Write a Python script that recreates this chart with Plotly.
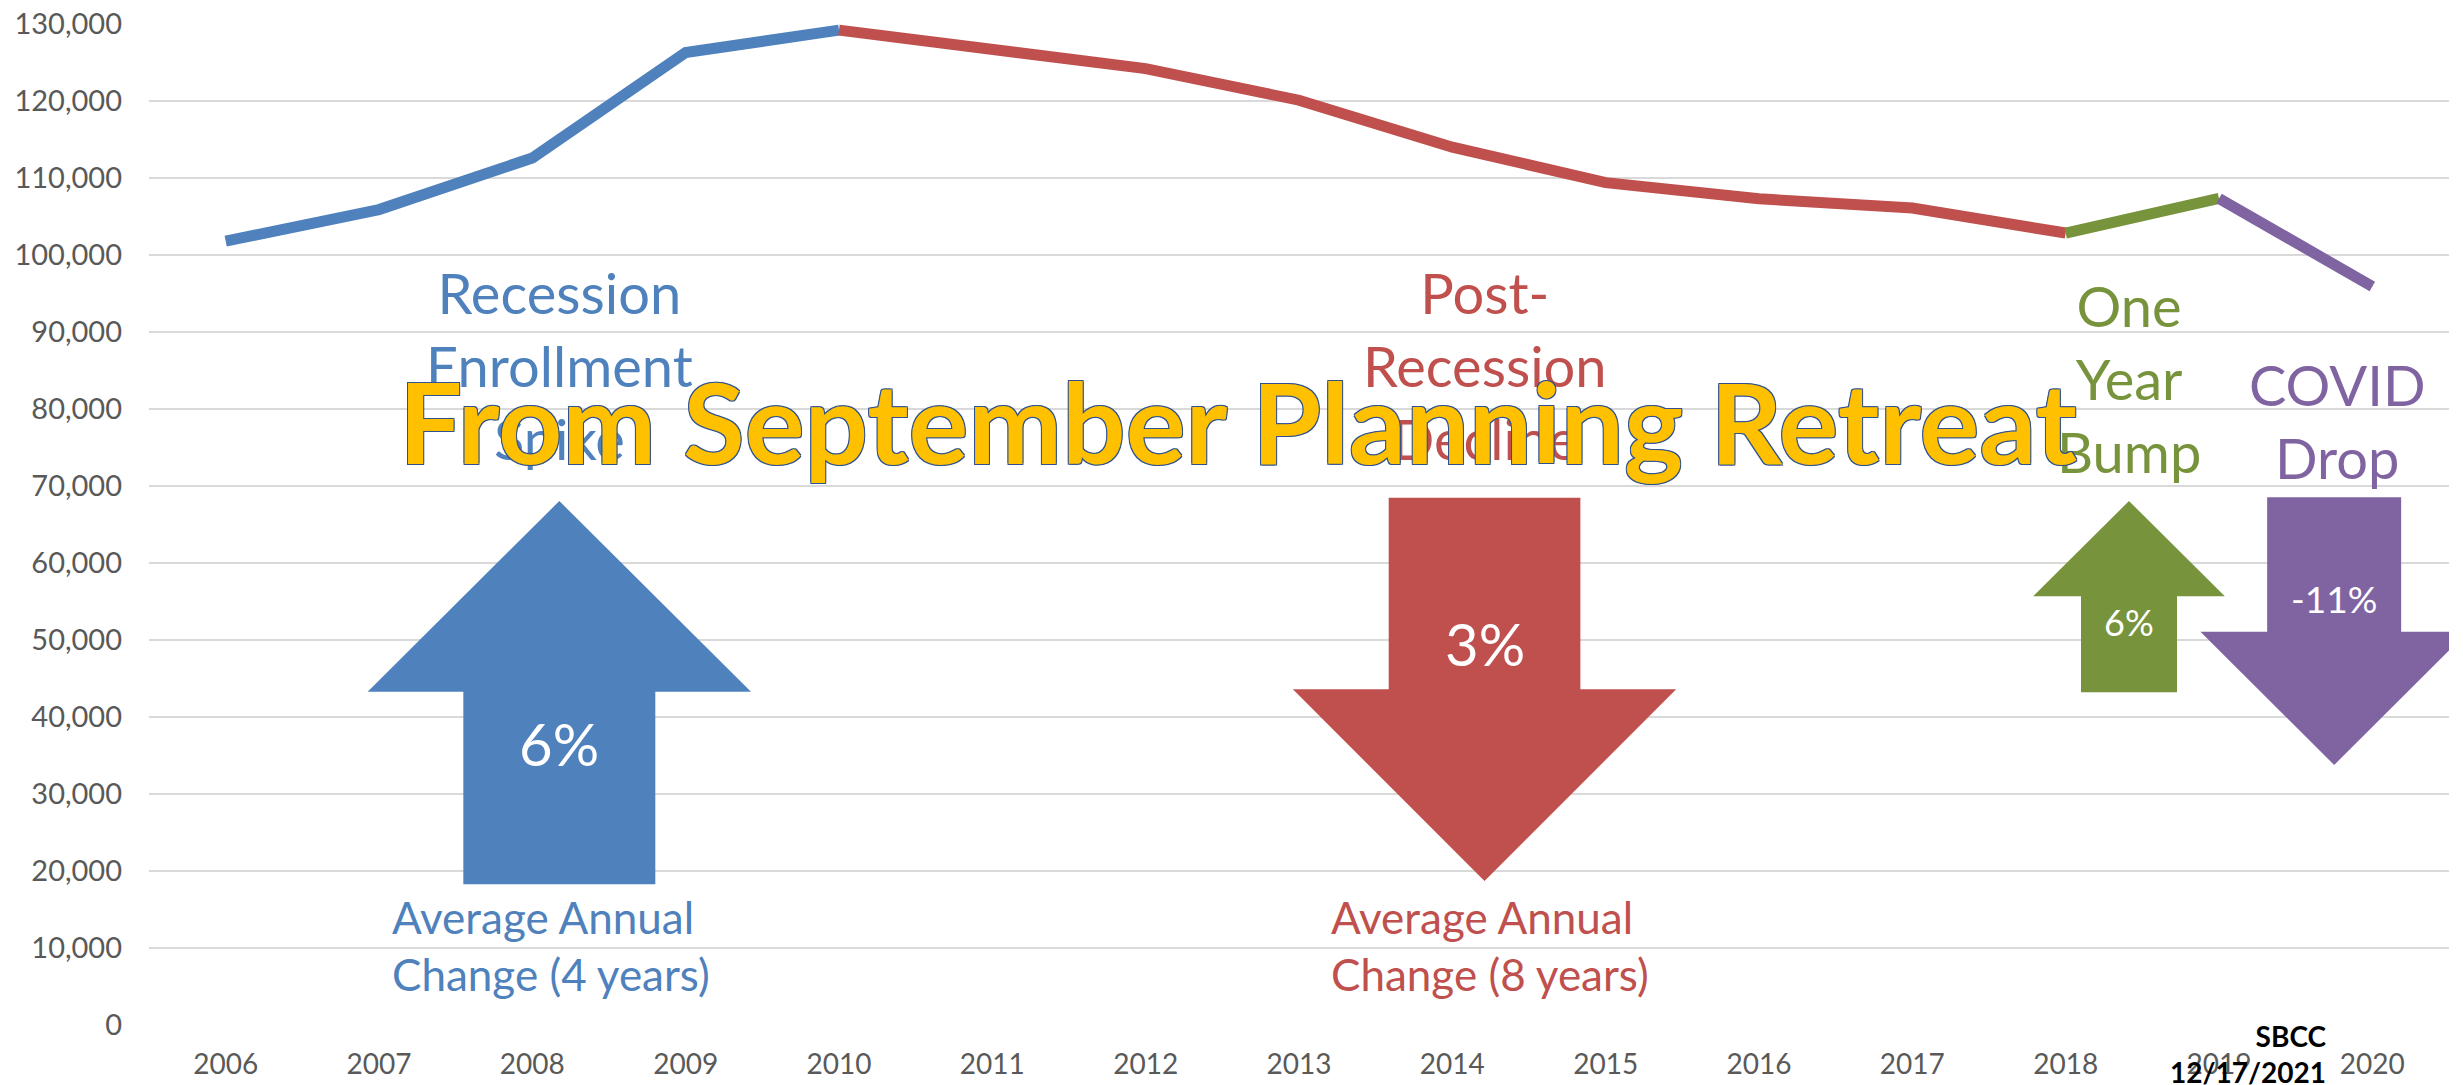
import plotly.graph_objects as go

years = list(range(2006, 2021))
enrollment = [101800, 105900, 112600, 126300, 129200, 126700, 124200,
              120100, 114000, 109400, 107300, 106100, 102850, 107350, 95900]

# segments of the line: (first year, last year, colour)
segments = [(2006, 2010, "#4F81BD"), (2010, 2018, "#C0504D"),
            (2018, 2019, "#77933C"), (2019, 2020, "#8064A2")]

phase_labels = ["Recession<br>Enrollment<br>Spike", "Post-<br>Recession<br>Decline",
                "One<br>Year<br>Bump", "COVID<br>Drop"]
phase_changes = ["6%", "3%", "6%", "-11%"]
avg_labels = ["Average Annual<br>Change (4 years)", "Average Annual<br>Change (8 years)"]

fig = go.Figure()

for start, end, color in segments:
    i0, i1 = years.index(start), years.index(end)
    fig.add_trace(go.Scatter(x=years[i0:i1 + 1], y=enrollment[i0:i1 + 1], mode="lines",
                             line=dict(color=color, width=11), hoverinfo="skip"))


def arrow_path(xc, half_head, half_shaft, y_tip, y_head, y_tail):
    pts = [(xc, y_tip), (xc + half_head, y_head), (xc + half_shaft, y_head),
           (xc + half_shaft, y_tail), (xc - half_shaft, y_tail),
           (xc - half_shaft, y_head), (xc - half_head, y_head)]
    return "M " + " L ".join(f"{x},{y}" for x, y in pts) + " Z"


arrows = [
    (2008.176, 1.250, 0.626, 68050, 43290, 18270, "#4F81BD"),
    (2014.210, 1.250, 0.625, 18700, 43600, 68480, "#C0504D"),
    (2018.413, 0.625, 0.313, 68050, 55680, 43210, "#77933C"),
    (2019.751, 0.872, 0.437, 33770, 51080, 68530, "#8064A2"),
]
for xc, hh, hs, yt, yh, ye, color in arrows:
    fig.add_shape(type="path", xref="x", yref="y", path=arrow_path(xc, hh, hs, yt, yh, ye),
                  fillcolor=color, line=dict(width=0), layer="above")

font = "Lato, 'Open Sans', sans-serif"

# phase captions above the arrows
label_pos = [(2008.18, 85700, "#4F81BD"), (2014.21, 85700, "#C0504D"),
             (2018.41, 83900, "#77933C"), (2019.77, 78400, "#8064A2")]
for text, (x, y, color) in zip(phase_labels, label_pos):
    fig.add_annotation(x=x, y=y, text=text, showarrow=False, xanchor="center", yanchor="middle",
                       font=dict(family=font, size=56, color=color))

# percentages inside the arrows
pct_pos = [(2008.176, 36620, 58), (2014.21, 49610, 58), (2018.413, 52380, 36), (2019.751, 55420, 37)]
for text, (x, y, size) in zip(phase_changes, pct_pos):
    fig.add_annotation(x=x, y=y, text=text, showarrow=False,
                       font=dict(family=font, size=size, color="white"))

for text, x, color in zip(avg_labels, [2007.07, 2013.197], ["#4F81BD", "#C0504D"]):
    fig.add_annotation(x=x, y=10390, text=text, showarrow=False, xanchor="left", align="left",
                       yanchor="middle", font=dict(family=font, size=44, color=color))

fig.add_annotation(x=2019.714, xref="x", y=-0.029, yref="paper",
                   text="<b>SBCC</b><br><b>12/17/2021</b>", showarrow=False,
                   xanchor="right", align="right", yanchor="middle",
                   font=dict(family=font, size=28, color="black"))

outline = "#2F528F"
fig.add_annotation(x=2012.60, y=78570, text="<b>From September Planning Retreat</b>",
                   showarrow=False, xanchor="center", yanchor="middle",
                   font=dict(family=font, size=112, color="#FFC000",
                             shadow=f"-1px -1px 0 {outline}, 1px -1px 0 {outline}, "
                                    f"-1px 1px 0 {outline}, 1px 1px 0 {outline}"))

# the page body adds an 8px offset, so the figure is 8px smaller than the window
fig.update_layout(
    width=2455, height=1077,
    margin=dict(l=141, r=14, t=16, b=60),
    plot_bgcolor="white", paper_bgcolor="white",
    showlegend=False,
    font=dict(family=font, color="#595959"),
)
fig.update_xaxes(range=[2005.5, 2020.5], tickvals=years, showgrid=False, zeroline=False,
                 showline=False, ticks="", ticklabelstandoff=20, automargin=False,
                 ticklabeloverflow="allow",
                 tickfont=dict(family=font, size=28, color="#595959"))
fig.update_yaxes(range=[0, 130000], dtick=10000, tickformat=",", showgrid=True,
                 gridcolor="#D9D9D9", gridwidth=2, zeroline=False, showline=False, ticks="",
                 ticklabelstandoff=26, automargin=False, ticklabeloverflow="allow",
                 tickfont=dict(family=font, size=29, color="#595959"))

fig.write_html("out.html")
